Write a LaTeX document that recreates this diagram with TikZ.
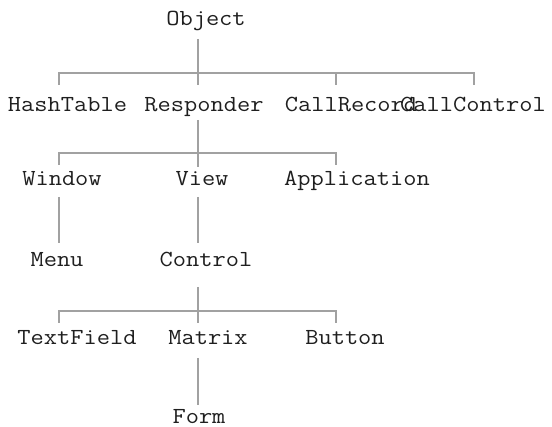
\documentclass[tikz,border=0pt]{standalone}
\usepackage{fontspec}
\newcommand\clsname[1]{\scalebox{1.118}[1]{#1}}
\begin{document}
\begin{tikzpicture}[x=1pt,y=-1pt,
  cls/.style={anchor=base,inner sep=0pt,text=black!88,font=\ttfamily\fontsize{23}{27}\selectfont},
  link/.style={draw=black!37,line width=2.6pt}]
\useasboundingbox (0,0) rectangle (552,427);
% classes
\node[cls] (Object) at (206,26) {\clsname{Object}};
\node[cls] (HashTable) at (67.5,112) {\clsname{HashTable}};
\node[cls] (Responder) at (204,112) {\clsname{Responder}};
\node[cls] (CallRecord) at (351,112) {\clsname{CallRecord}};
\node[cls] (CallControl) at (473,112) {\clsname{CallControl}};
\node[cls] (Window) at (62,186) {\clsname{Window}};
\node[cls] (View) at (202,186) {\clsname{View}};
\node[cls] (Application) at (357,186) {\clsname{Application}};
\node[cls] (Menu) at (57,267) {\clsname{Menu}};
\node[cls] (Control) at (206,267) {\clsname{Control}};
\node[cls] (TextField) at (77,345) {\clsname{TextField}};
\node[cls] (Matrix) at (208,345) {\clsname{Matrix}};
\node[cls] (Button) at (345,345) {\clsname{Button}};
\node[cls] (Form) at (199,424) {\clsname{Form}};
% junction points
\coordinate (oTop) at (198,39);
\coordinate (b1L) at (59,73);  \coordinate (b1R) at (474,73);
\coordinate (b1M) at (198,85);
\coordinate (t1a) at (59,85);  \coordinate (t1c) at (336,85); \coordinate (t1d) at (474,85);
\coordinate (t1cTop) at (336,73);
\coordinate (rTop) at (198,120); \coordinate (rBot) at (198,167);
\coordinate (b2L) at (59,153);  \coordinate (b2R) at (336,153);
\coordinate (t2a) at (59,165);  \coordinate (t2c) at (336,165);
\coordinate (wTop) at (59,197);  \coordinate (wBot) at (59,243);
\coordinate (vTop) at (198,197); \coordinate (vBot) at (198,243);
\coordinate (cTop) at (198,287); \coordinate (cBot) at (198,323);
\coordinate (b3L) at (59,311);  \coordinate (b3R) at (336,311);
\coordinate (t3a) at (59,323);  \coordinate (t3c) at (336,323);
\coordinate (mTop) at (198,358); \coordinate (mBot) at (198,405);
% connectors
\draw[link] (oTop) -- (b1M);
\draw[link] (t1a) -- (b1L) -- (b1R) -- (t1d);
\draw[link] (t1cTop) -- (t1c);
\draw[link] (rTop) -- (rBot);
\draw[link] (t2a) -- (b2L) -- (b2R) -- (t2c);
\draw[link] (wTop) -- (wBot);
\draw[link] (vTop) -- (vBot);
\draw[link] (cTop) -- (cBot);
\draw[link] (t3a) -- (b3L) -- (b3R) -- (t3c);
\draw[link] (mTop) -- (mBot);
\end{tikzpicture}
\end{document}
